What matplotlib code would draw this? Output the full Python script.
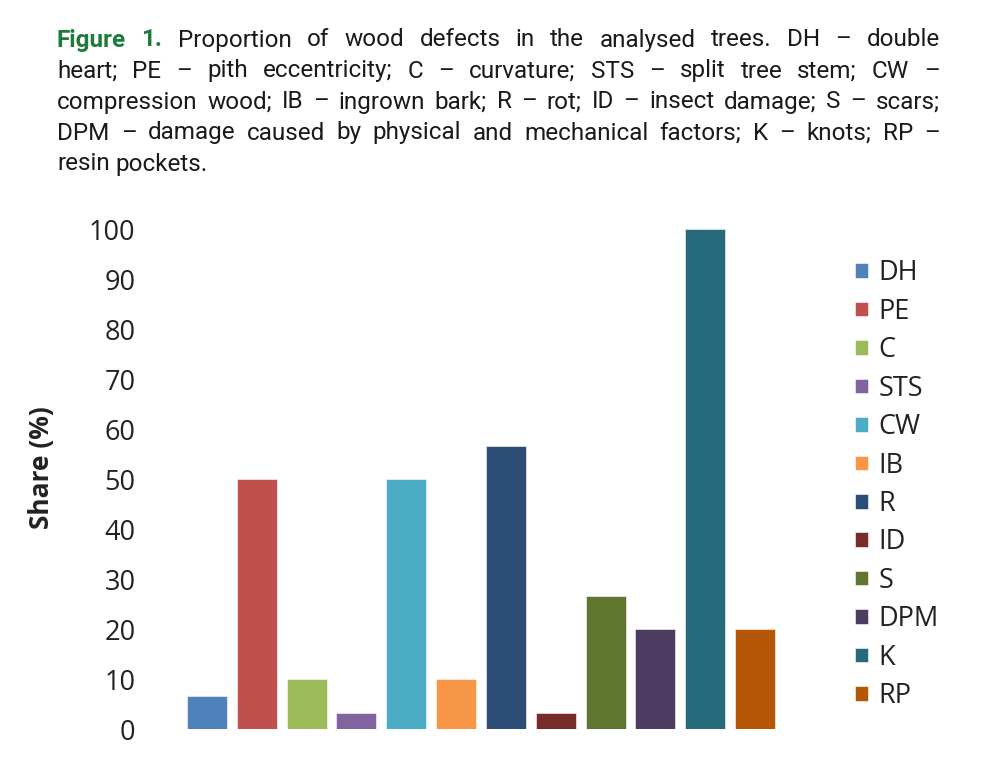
import matplotlib
matplotlib.use("Agg")
import matplotlib.pyplot as plt
from matplotlib import font_manager

# wood defects, share of analysed trees (%)
defects = ["DH", "PE", "C", "STS", "CW", "IB", "R", "ID", "S", "DPM", "K", "RP"]
share = [6.7, 50.0, 10.0, 3.3, 50.0, 10.0, 56.7, 3.3, 26.7, 20.0, 100.0, 20.0]
colors = ["#4F81BD", "#C0504D", "#9BBB59", "#8064A2", "#4BACC6", "#F79646",
          "#2C4D75", "#772C2A", "#5F7530", "#4D3B62", "#276A7C", "#B65708"]
yticks = [0, 10, 20, 30, 40, 50, 60, 70, 80, 90, 100]

caption = [
    "Figure 1. Proportion of wood defects in the analysed trees. DH – double",
    "heart; PE – pith eccentricity; C – curvature; STS – split tree stem; CW –",
    "compression wood; IB – ingrown bark; R – rot; ID – insect damage; S – scars;",
    "DPM – damage caused by physical and mechanical factors; K – knots; RP –",
    "resin pockets.",
]

names = {f.name for f in font_manager.fontManager.ttflist}
cap_font = "Liberation Sans Narrow" if "Liberation Sans Narrow" in names else "Roboto"
cap_size = 19 if cap_font == "Liberation Sans Narrow" else 17.5
ax_font = "Open Sans"

W, H = 995, 766
fig = plt.figure(figsize=(W / 100, H / 100), dpi=100)
ax = fig.add_axes([177 / W, 37 / H, 608 / W, 500 / H])

x = range(len(defects))
bars = ax.bar(x, share, width=0.8, color=colors, edgecolor="white", linewidth=0.4)
ax.set_xlim(-0.6, 11.6)
ax.set_ylim(0, 100)
ax.set_yticks(yticks)
ax.set_yticklabels([str(t) for t in yticks], fontsize=19.5, family=ax_font, color="#222222")
ax.set_xticks([])
ax.tick_params(axis="y", length=0, pad=30)
for s in ax.spines.values():
    s.set_visible(False)

fig.text(42 / W, 1 - 468 / H, "Share (%)", rotation=90, ha="center", va="center",
         fontsize=19, fontweight="bold", family=ax_font, color="#222222")

leg = ax.legend(bars, defects, loc="upper left", bbox_to_anchor=(831 / W, 1 - 235 / H),
                bbox_transform=fig.transFigure, frameon=False, handlelength=0.45,
                handleheight=0.45, handletextpad=0.4, labelspacing=0.385,
                prop={"family": ax_font, "size": 19.5})
for t in leg.get_texts():
    t.set_color("#222222")

# justified caption, word by word
fig.canvas.draw()
r = fig.canvas.get_renderer()
left, right = 57, 940
base_y = [40, 71, 102, 133, 164]
for i, line in enumerate(caption):
    words = line.split(" ")
    objs = []
    for j, w in enumerate(words):
        green = (i == 0 and j < 2)
        t = fig.text(0, 1 - base_y[i] / H, w, va="center", ha="left",
                     fontsize=cap_size, family=cap_font,
                     fontweight="bold" if green else "normal",
                     color="#1E7B3A" if green else "#1a1a1a")
        objs.append(t)
    widths = [t.get_window_extent(r).width for t in objs]
    if i == len(caption) - 1:
        sp = fig.text(0, 0, "a a", fontsize=cap_size, family=cap_font)
        sp2 = fig.text(0, 0, "aa", fontsize=cap_size, family=cap_font)
        gap = sp.get_window_extent(r).width - sp2.get_window_extent(r).width
        sp.remove(); sp2.remove()
    else:
        gap = (right - left - sum(widths)) / (len(words) - 1)
    xp = left
    for t, w in zip(objs, widths):
        t.set_x(xp / W)
        xp += w + gap

fig.savefig("out.png", dpi=100)
